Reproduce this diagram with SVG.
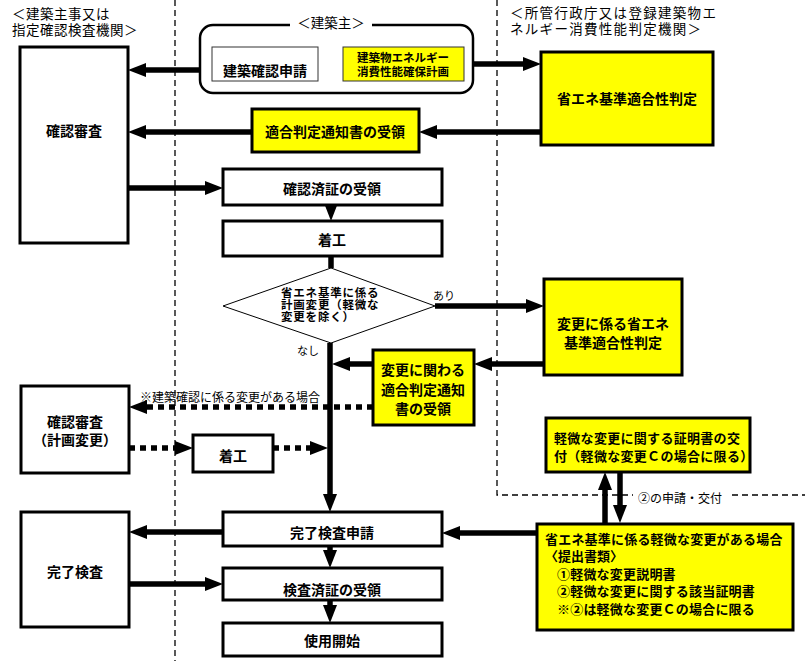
<svg xmlns="http://www.w3.org/2000/svg" width="805" height="661" viewBox="0 0 805 661">
<style>
text{font-family:"Noto Sans CJK JP","Liberation Sans",sans-serif;fill:#000;dominant-baseline:central}
.b{font-weight:700;font-size:14px}
.h{font-size:13.5px}
.box{fill:#fff;stroke:#000;stroke-width:3}
.ybox{fill:#ffff00;stroke:#000;stroke-width:3}
.thin{fill:#fff;stroke:#333;stroke-width:1}
.ythin{fill:#ffff00;stroke:#333;stroke-width:1}
.c{fill:none;stroke:#000;stroke-width:5.5}
.a{marker-end:url(#ah)}
.d{stroke-dasharray:6 5}
.guide{fill:none;stroke:#000;stroke-width:1.3;stroke-dasharray:6 4}
.dt{font-size:11.5px;font-weight:700;letter-spacing:0.8px}
</style>
<defs>
<marker id="ah" markerUnits="userSpaceOnUse" markerWidth="18" markerHeight="14" refX="8" refY="7" orient="auto">
<path d="M0,0 L18,7 L0,14 z" fill="#000"/>
</marker>
</defs>
<rect width="805" height="661" fill="#fff"/>

<g id="guides">
<line class="guide" x1="175" y1="0" x2="175" y2="661"/>
<polyline class="guide" points="497,0 497,495 805,495"/>
</g>

<g id="headers">
<text class="h" x="12" y="13" letter-spacing="0.5">＜建築主事又は</text>
<text class="h" x="12" y="29" letter-spacing="0.5">指定確認検査機関＞</text>
<text class="h" x="510" y="12" letter-spacing="1.3">＜所管行政庁又は登録建築物エ</text>
<text class="h" x="510" y="28" letter-spacing="1.3">ネルギー消費性能判定機関＞</text>
</g>

<g id="connectors">
<line class="c a" x1="200" y1="70" x2="138" y2="70"/>
<line class="c a" x1="473" y1="64" x2="531" y2="64"/>
<line class="c a" x1="541" y1="132" x2="429" y2="132"/>
<line class="c a" x1="252" y1="132" x2="138" y2="132"/>
<line class="c a" x1="129" y1="188" x2="213" y2="188"/>
<line class="c a" x1="331" y1="205" x2="331" y2="211"/>
<line class="c" x1="331" y1="256" x2="331" y2="268"/>
<line class="c a" x1="435" y1="306" x2="534" y2="306"/>
<line class="c a" x1="544" y1="364" x2="484" y2="364"/>
<line class="c a" x1="373" y1="364" x2="342" y2="364"/>
<line class="c a d" x1="373" y1="407" x2="139" y2="407"/>
<line class="c a d" x1="129" y1="448" x2="183" y2="448"/>
<line class="c a d" x1="273" y1="448" x2="318" y2="448"/>
<line class="c a" x1="330" y1="343" x2="330" y2="502"/>
<line class="c a" x1="537" y1="533" x2="452" y2="533"/>
<line class="c a" x1="223" y1="532" x2="139" y2="532"/>
<line class="c a" x1="129" y1="584" x2="213" y2="584"/>
<line class="c a" x1="330" y1="546" x2="330" y2="558"/>
<line class="c a" x1="330" y1="600" x2="330" y2="613"/>
<line class="c a" x1="605" y1="523" x2="605" y2="482"/>
<line class="c a" x1="620" y1="472" x2="620" y2="513"/>
<text x="433" y="295" font-size="11">あり</text>
<text x="297" y="350" font-size="11">なし</text>
<text x="140" y="396" font-size="12">※建築確認に係る変更がある場合</text>
<rect x="633" y="488" width="96" height="16" fill="#fff"/>
<text x="638" y="497" font-size="12">②の申請・交付</text>
</g>

<g id="n-kakunin">
<rect class="box" x="20" y="47" width="108" height="196"/>
<text class="b" x="74" y="130" text-anchor="middle">確認審査</text>
</g>

<g id="n-kenchikunushi">
<rect x="200" y="25" width="273" height="68" rx="13" fill="#fff" stroke="#000" stroke-width="2.5"/>
<rect x="290" y="15" width="82" height="16" fill="#fff"/>
<text class="h" x="331" y="22" text-anchor="middle">＜建築主＞</text>
</g>

<g id="n-shinsei">
<rect class="thin" x="212" y="47" width="106" height="34"/>
<text class="b" x="265" y="70" text-anchor="middle">建築確認申請</text>
</g>

<g id="n-keikaku">
<rect class="ythin" x="343" y="47" width="121" height="34"/>
<text x="403" y="57" font-size="11.5" font-weight="700" text-anchor="middle">建築物エネルギー</text>
<text x="403" y="71" font-size="11.5" font-weight="700" text-anchor="middle">消費性能確保計画</text>
</g>

<g id="n-tekigo">
<rect class="ybox" x="541" y="52" width="172" height="93"/>
<text class="b" x="627" y="98" text-anchor="middle">省エネ基準適合性判定</text>
</g>

<g id="n-tsuchi">
<rect class="ybox" x="252" y="109" width="167" height="43"/>
<text class="b" x="335" y="131" text-anchor="middle">適合判定通知書の受領</text>
</g>

<g id="n-kakuninzumi">
<rect class="box" x="223" y="169" width="219" height="36"/>
<text class="b" x="332" y="188" text-anchor="middle">確認済証の受領</text>
</g>

<g id="n-chakko">
<rect class="box" x="223" y="221" width="219" height="35"/>
<text class="b" x="332" y="239" text-anchor="middle">着工</text>
</g>

<g id="n-diamond">
<polygon points="223,306 331,268 435,306 331,343" fill="#fff" stroke="#000" stroke-width="1"/>
<text class="dt" x="281" y="292">省エネ基準に係る</text>
<text class="dt" x="281" y="304">計画変更（軽微な</text>
<text class="dt" x="281" y="316">変更を除く）</text>
</g>

<g id="n-henkohantei">
<rect class="ybox" x="544" y="279" width="138" height="96"/>
<text class="b" x="613" y="323" text-anchor="middle">変更に係る省エネ</text>
<text class="b" x="613" y="342" text-anchor="middle">基準適合性判定</text>
</g>

<g id="n-henkotsuchi">
<rect class="ybox" x="373" y="350" width="101" height="75"/>
<text class="b" x="423" y="369" text-anchor="middle">変更に関わる</text>
<text class="b" x="423" y="389" text-anchor="middle">適合判定通知</text>
<text class="b" x="423" y="408" text-anchor="middle">書の受領</text>
</g>

<g id="n-keikakuhenko">
<rect class="box" x="21" y="386" width="108" height="87"/>
<text class="b" x="75" y="421" text-anchor="middle">確認審査</text>
<text class="b" x="75" y="439" text-anchor="middle">（計画変更）</text>
</g>

<g id="n-chakko2">
<rect class="box" x="193" y="435" width="80" height="37"/>
<text class="b" x="233" y="455" text-anchor="middle">着工</text>
</g>

<g id="n-shomei">
<rect class="ybox" x="546" y="418" width="204" height="54"/>
<text x="554" y="437" font-size="13" font-weight="700" letter-spacing="0.3">軽微な変更に関する証明書の交</text>
<text x="554" y="455" font-size="13" font-weight="700" letter-spacing="0.3">付（軽微な変更Ｃの場合に限る）</text>
</g>

<g id="n-keibi">
<rect class="ybox" x="537" y="524" width="256" height="106"/>
<text x="545" y="538" font-size="13" font-weight="700" letter-spacing="0.2">省エネ基準に係る軽微な変更がある場合</text>
<text x="545" y="555" font-size="13" font-weight="700">〈提出書類〉</text>
<text x="557" y="573" font-size="13" font-weight="700" letter-spacing="0.2">①軽微な変更説明書</text>
<text x="557" y="590" font-size="13" font-weight="700" letter-spacing="0.2">②軽微な変更に関する該当証明書</text>
<text x="557" y="608" font-size="13" font-weight="700" letter-spacing="0.2">※②は軽微な変更Ｃの場合に限る</text>
</g>

<g id="n-kanryoshinsei">
<rect class="box" x="223" y="512" width="219" height="34"/>
<text class="b" x="332" y="532" text-anchor="middle">完了検査申請</text>
</g>

<g id="n-kanryo">
<rect class="box" x="21" y="512" width="108" height="115"/>
<text class="b" x="75" y="571" text-anchor="middle">完了検査</text>
</g>

<g id="n-kensazumi">
<rect class="box" x="223" y="568" width="219" height="32"/>
<text class="b" x="332" y="589" text-anchor="middle">検査済証の受領</text>
</g>

<g id="n-shiyo">
<rect class="box" x="223" y="623" width="219" height="33"/>
<text class="b" x="332" y="640" text-anchor="middle">使用開始</text>
</g>
</svg>
